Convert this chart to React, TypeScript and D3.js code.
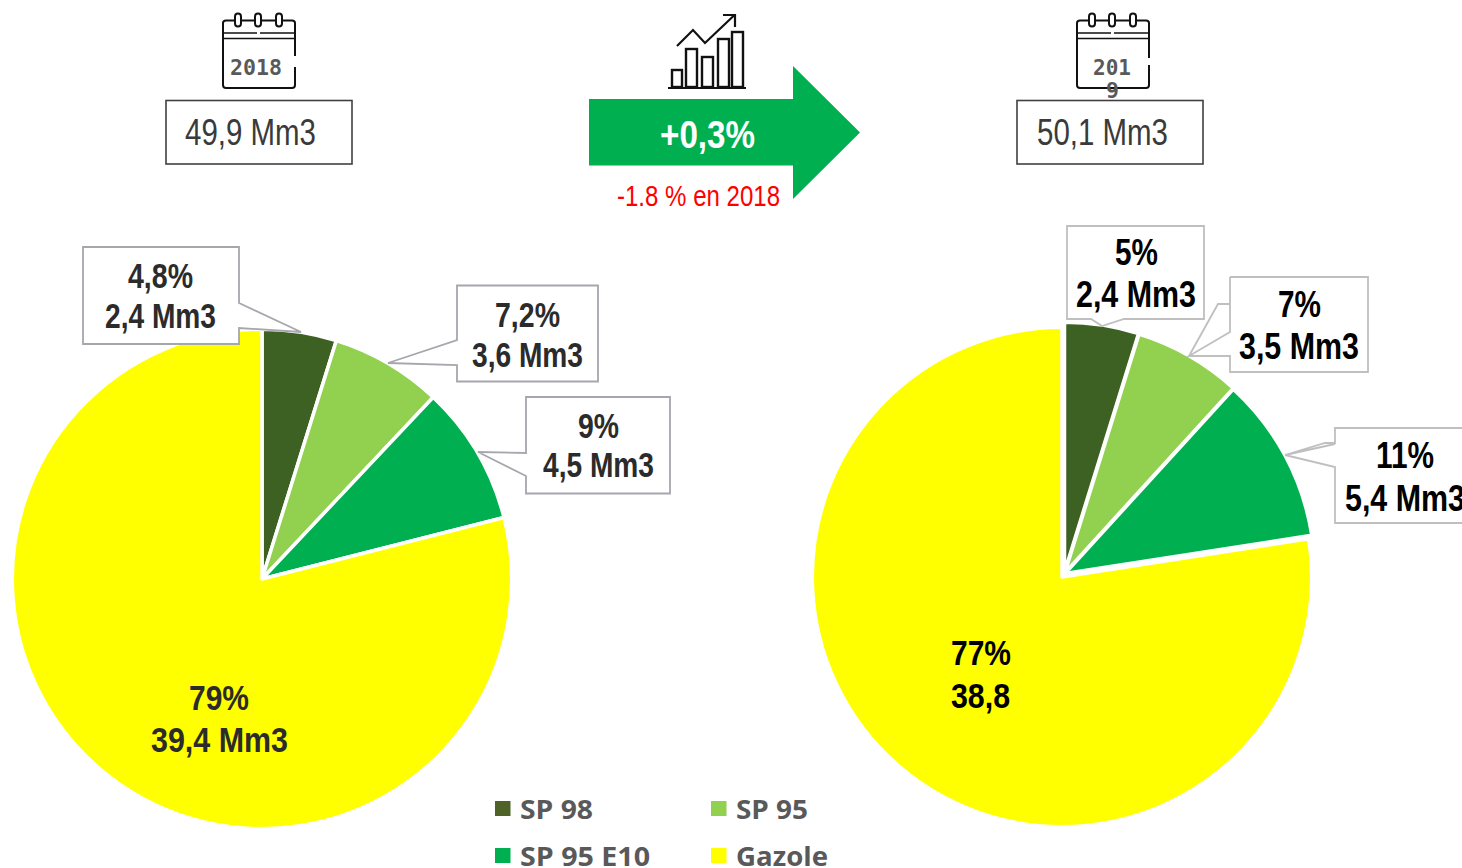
import React from "react";
import * as d3 from "d3";

const categories = ["SP 98", "SP 95", "SP 95 E10", "Gazole"];
const sliceColors = ["#3D6122", "#92D050", "#00B050", "#FFFF00"];
const values2018 = [2.4, 3.6, 4.5, 39.4];
const values2019 = [2.4, 3.5, 5.4, 38.8];
const legendSwatch = ["#4F6228", "#92D050", "#00B050", "#FFFF00"];

const W = 1462, H = 868;
const FONT = "'Liberation Sans', Arial, sans-serif";
const noShift = [[0, 0], [0, 0], [0, 0], [0, 0]];
const shift2019 = [[2.5, -5], [3, -4.4], [3, -3.5], [0, 0]];

function Fit({ x, y, w, size, fill, bold, children, anchor = "start", family = FONT }: any) {
  return (
    <text x={x} y={y} fontSize={size} fill={fill} fontWeight={bold ? 700 : 400} fontFamily={family}
      textAnchor={anchor} textLength={w} lengthAdjust="spacingAndGlyphs">{children}</text>
  );
}

function Pie({ cx, cy, r, values, shift }: any) {
  const arcs = d3.pie<number>().sort(null)(values);
  const arc = d3.arc<d3.PieArcDatum<number>>().innerRadius(0).outerRadius(r);
  return (
    <g>
      {arcs.map((a, i) => (
        <path key={i} d={arc(a) as string} transform={`translate(${cx + shift[i][0]},${cy + shift[i][1]})`}
          fill={sliceColors[i]} stroke="#fff" strokeWidth={3.5} strokeLinejoin="round" />
      ))}
    </g>
  );
}

function Callout({ d, stroke, sw = 1.8 }: any) {
  return <path d={d} fill="#fff" stroke={stroke} strokeWidth={sw} />;
}

function Calendar({ x, gapTop, gapBottom }: { x: number; gapTop: number; gapBottom: number }) {
  const rings = [x + 16, x + 36, x + 57];
  return (
    <g fill="none" stroke="#111" strokeWidth={2}>
      <path d={`M${x + 73},${gapBottom} V85 Q${x + 73},88 ${x + 70},88 H${x + 4} Q${x + 1},88 ${x + 1},85 V23 Q${x + 1},20.5 ${x + 4},20.5 H${x + 70} Q${x + 73},20.5 ${x + 73},23 V${gapTop}`} />
      <path d={`M${x + 1},33 H${x + 35} M${x + 38},33 H${x + 73}`} strokeWidth={1.5} />
      <path d={`M${x + 1},38.5 H${x + 73}`} strokeWidth={1.5} />
      {rings.map((rx) => (
        <rect key={rx} x={rx - 3} y={13.5} width={6} height={13} rx={3} fill="#fff" />
      ))}
    </g>
  );
}

const trendBars = [
  { x: 672, top: 70, w: 10 },
  { x: 686, top: 49, w: 11 },
  { x: 702, top: 57, w: 11 },
  { x: 718, top: 39, w: 11 },
  { x: 732, top: 32, w: 11 },
];

export default function App() {
  return (
    <svg width={W} height={H} viewBox={`0 0 ${W} ${H}`}
      style={{ position: "fixed", left: 0, top: 0, background: "#fff" }}>
      {/* Pies */}
      <Pie cx={262} cy={579} r={249.7} values={values2018} shift={noShift} />
      <Pie cx={1062} cy={577} r={249.7} values={values2019} shift={shift2019} />

      {/* Left header */}
      <Calendar x={222} gapTop={56} gapBottom={67} />
      <Fit x={230} y={75} w={52} size={22} fill="#595959" bold family="'DejaVu Sans Mono', monospace">2018</Fit>
      <rect x={166} y={100.5} width={186} height={63.5} fill="#fff" stroke="#404040" strokeWidth={1.6} />
      <Fit x={185} y={145} w={131} size={37} fill="#3a3a3a">49,9 Mm3</Fit>

      {/* Arrow */}
      <path d="M589,99 H793 V66 L860,132.5 L793,199 V165.5 H589 Z" fill="#00B050" />
      <Fit x={660} y={148} w={95} size={39} fill="#fff" bold>+0,3%</Fit>
      <Fit x={617} y={206} w={163} size={30} fill="#FF0000">-1.8 % en 2018</Fit>

      {/* Trend icon */}
      <g fill="none" stroke="#111" strokeWidth={2.4}>
        {trendBars.map((b) => (
          <rect key={b.x} x={b.x} y={b.top} width={b.w} height={87 - b.top} />
        ))}
        <path d="M668,88 H746" strokeWidth={2.2} />
        <path d="M677,46 L693,30 L705,43 L734,15.5" strokeWidth={2.2} />
        <path d="M723,15 H735 V27" strokeWidth={2.2} />
      </g>

      {/* Right header */}
      <Calendar x={1076} gapTop={58} gapBottom={65} />
      <Fit x={1093} y={75} w={38} size={22} fill="#595959" bold family="'DejaVu Sans Mono', monospace">201</Fit>
      <rect x={1017} y={100.5} width={186} height={63.5} fill="#fff" stroke="#404040" strokeWidth={1.6} />
      <Fit x={1106} y={98} w={13} size={22} fill="#595959" bold family="'DejaVu Sans Mono', monospace">9</Fit>
      <Fit x={1037} y={145} w={131} size={37} fill="#3a3a3a">50,1 Mm3</Fit>

      {/* Left callouts */}
      <Callout stroke="#A6A6AD" d="M83,247 H239 V303 L301,332 L239,328 V344 H83 Z" />
      <Fit x={128} y={288} w={65} size={35} fill="#2b2b2b" bold>4,8%</Fit>
      <Fit x={105} y={328} w={111} size={35} fill="#2b2b2b" bold>2,4 Mm3</Fit>

      <Callout stroke="#A6A6AD" d="M457,285.5 H598 V381.5 H457 V365 L388,363 L457,340 Z" />
      <Fit x={495} y={327} w={65} size={35} fill="#2b2b2b" bold>7,2%</Fit>
      <Fit x={472} y={367} w={111} size={35} fill="#2b2b2b" bold>3,6 Mm3</Fit>

      <Callout stroke="#A6A6AD" d="M526,397 H670 V493.5 H526 V476 L478,452 L526,453 Z" />
      <Fit x={578} y={438} w={41} size={35} fill="#2b2b2b" bold>9%</Fit>
      <Fit x={543} y={477} w={111} size={35} fill="#2b2b2b" bold>4,5 Mm3</Fit>

      {/* Right callouts */}
      <Callout stroke="#BFBFBF" d="M1067,226 H1204 V319 H1124 L1102,326 L1091,319 H1067 Z" />
      <Fit x={1115} y={265} w={43} size={37} fill="#000" bold>5%</Fit>
      <Fit x={1076} y={307} w={120} size={37} fill="#000" bold>2,4 Mm3</Fit>

      <Callout stroke="#BFBFBF" d="M1230,277 H1368 V372 H1230 V356 L1189,356 L1230,332 V304 H1218 L1189,356 M1230,304 V277" />
      <Fit x={1278} y={317} w={43} size={37} fill="#000" bold>7%</Fit>
      <Fit x={1239} y={359} w={120} size={37} fill="#000" bold>3,5 Mm3</Fit>

      <Callout stroke="#BFBFBF" d="M1466,428 H1335 V443 H1325 L1285,455 L1335,444 M1285,455 L1335,467 V523 H1466" />
      <Fit x={1376} y={468} w={58} size={37} fill="#000" bold>11%</Fit>
      <Fit x={1345} y={511} w={120} size={37} fill="#000" bold>5,4 Mm3</Fit>

      {/* Pie labels */}
      <Fit x={189} y={710} w={60} size={35} fill="#2b2b2b" bold>79%</Fit>
      <Fit x={151} y={752} w={137} size={35} fill="#2b2b2b" bold>39,4 Mm3</Fit>
      <Fit x={951} y={665} w={60} size={35} fill="#000" bold>77%</Fit>
      <Fit x={951} y={708} w={59} size={35} fill="#000" bold>38,8</Fit>

      {/* Legend */}
      {categories.map((c, i) => {
        const col = i % 2, row = Math.floor(i / 2);
        const x = col === 0 ? 495 : 711;
        const y = row === 0 ? 801 : 848;
        const widths = [73, 72, 130, 92];
        return (
          <g key={c}>
            <rect x={x} y={y} width={15.5} height={15} fill={legendSwatch[i]} />
            <Fit x={x + 25} y={y + 18} w={widths[i]} size={27} fill="#595959" bold
              family="'Open Sans', sans-serif">{c}</Fit>
          </g>
        );
      })}
    </svg>
  );
}
